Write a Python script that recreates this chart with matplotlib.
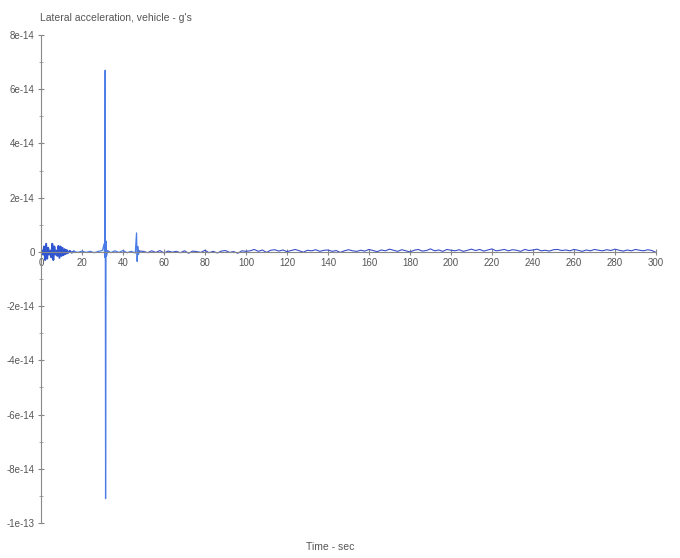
import matplotlib

matplotlib.use("Agg")
import matplotlib.pyplot as plt
import numpy as np
from matplotlib.ticker import FixedLocator, FuncFormatter, MultipleLocator

# lateral acceleration trace, values in units of 1e-14 g
SCALE = 1e-14

t_start = [0, 0.5, 1, 1.5, 2, 2.5, 3, 3.5, 4, 4.5, 5, 5.5, 6, 6.5, 7, 7.5,
           8, 8.5, 9, 9.5, 10, 10.5, 11, 11.5, 12, 12.5, 13, 14, 15, 16]
a_start = [0.0, 0.05, -0.1, 0.2, -0.3, 0.3, -0.25, 0.15, -0.1, 0.05, -0.2, 0.3,
           -0.3, 0.2, -0.1, 0.05, -0.15, 0.22, -0.22, 0.2, -0.15, 0.15, -0.12,
           0.1, -0.08, 0.07, -0.05, 0.04, -0.03, 0.02]

t_spike = [18, 20, 22, 24, 26, 28, 30, 30.8, 31.1, 31.3, 31.5, 31.7, 32, 32.5,
           34, 36, 38, 40, 42, 44, 46, 46.6, 46.9, 47.2, 47.5, 48]
a_spike = [-0.02, 0.03, -0.02, 0.02, -0.03, 0.02, 0.05, 0.3, -0.2, 6.7, -9.1,
           0.4, -0.15, 0.05, -0.03, 0.04, -0.02, 0.05, -0.03, 0.02, -0.04, 0.7,
           -0.35, 0.2, -0.1, 0.03]

t_mid = list(range(50, 101, 2))
a_mid = [0.02, -0.03, 0.04, -0.02, 0.05, -0.04, 0.03, -0.01, 0.02, -0.03,
         0.04, -0.05, 0.03, 0.01, -0.02, 0.06, -0.03, 0.02, -0.04, 0.03,
         0.05, -0.02, 0.01, -0.05, 0.04, 0.02]

t_late = list(range(102, 301, 2))
a_late = [0.04, 0.09, 0.02, 0.07, -0.02, 0.06, 0.08, 0.03, 0.07, 0.01,
          0.05, 0.09, 0.04, -0.01, 0.06, 0.04, 0.08, 0.02, 0.06, 0.07,
          0.02, 0.05, -0.02, 0.04, 0.08, 0.04, 0.02, 0.06, 0.03, 0.09,
          0.05, 0.01, 0.07, 0.04, 0.10, 0.06, 0.02, 0.08, 0.04, 0.00,
          0.06, 0.09, 0.03, 0.05, 0.11, 0.04, 0.07, 0.02, 0.09, 0.06,
          0.04, 0.08, 0.02, 0.06, 0.10, 0.05, 0.09, 0.03, 0.07, 0.11,
          0.04, 0.06, 0.09, 0.04, 0.08, 0.06, 0.02, 0.09, 0.05, 0.07,
          0.10, 0.04, 0.06, 0.03, 0.08, 0.09, 0.05, 0.07, 0.04, 0.09,
          0.06, 0.02, 0.07, 0.04, 0.09, 0.06, 0.04, 0.08, 0.05, 0.10,
          0.06, 0.03, 0.07, 0.04, 0.09, 0.06, 0.04, 0.08, 0.05, -0.02]

y_ticks = [-10, -8, -6, -4, -2, 0, 2, 4, 6, 8]
x_ticks = list(range(0, 301, 20))

plt.rcParams["font.family"] = ["Liberation Sans Narrow", "Liberation Sans", "DejaVu Sans"]
TEXT = "#555555"

fig = plt.figure(figsize=(6.8, 5.58), dpi=100)
ax = fig.add_axes([0.0603, 0.0627, 0.9044, 0.8746])

time = np.array(t_start + t_spike + t_mid + t_late, dtype=float)
accel = np.array(a_start + a_spike + a_mid + a_late) * SCALE

# early bursts, impact spikes, then the settled tail
ax.plot(time[:30], accel[:30], color="#2f55d0", lw=1.4)
ax.plot(time[29:56], accel[29:56], color="#4a7be6", lw=0.9)
ax.plot(time[55:], accel[55:], color="#3a4fc8", lw=0.8)

ax.set_xlim(0, 300)
ax.set_ylim(-10 * SCALE, 8 * SCALE)

for side in ("top", "right"):
    ax.spines[side].set_visible(False)
ax.spines["bottom"].set_position(("data", 0))
ax.spines["left"].set_color("#888888")
ax.spines["bottom"].set_color("#888888")

ax.xaxis.set_major_locator(FixedLocator(x_ticks))
ax.yaxis.set_major_locator(FixedLocator([v * SCALE for v in y_ticks]))
ax.yaxis.set_minor_locator(MultipleLocator(SCALE))
ax.yaxis.set_major_formatter(
    FuncFormatter(lambda v, _: "0" if abs(v) < 1e-20 else f"{v:.0e}"))

ax.tick_params(axis="both", which="major", direction="inout", length=5,
               width=0.8, color="#888888", labelsize=7, labelcolor=TEXT, pad=2)
ax.tick_params(axis="y", which="minor", direction="inout", length=3,
               width=0.6, color="#999999")

fig.text(0.059, 0.968, "Lateral acceleration, vehicle - g's", fontsize=7.5,
         color=TEXT, ha="left", va="center")
fig.text(0.485, 0.02, "Time - sec", fontsize=7.5, color=TEXT,
         ha="center", va="center")

fig.savefig("out.png", dpi=100)
